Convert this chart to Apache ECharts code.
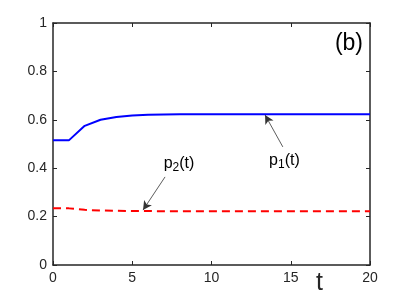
<!DOCTYPE html>
<html><head><meta charset="utf-8">
<script src="https://cdn.jsdelivr.net/npm/echarts@6/dist/echarts.min.js"></script>
<style>html,body{margin:0;padding:0;background:#fff}#c{width:409px;height:298px}</style>
</head><body><div id="c"></div>
<script>
const tValues = [0,1,2,3,4,5,6,7,8,9,10,11,12,13,14,15,16,17,18,19,20];
const p1Values = [0.515,0.515,0.575,0.600,0.612,0.618,0.621,0.622,0.623,0.623,0.623,0.623,0.623,0.623,0.623,0.623,0.623,0.623,0.623,0.623,0.623];
const p2Values = [0.235,0.234,0.228,0.225,0.224,0.223,0.223,0.222,0.222,0.222,0.222,0.222,0.222,0.222,0.222,0.222,0.222,0.222,0.222,0.222,0.222];
const xTicks = [0,5,10,15,20];
const yTicks = [0,0.2,0.4,0.6,0.8,1];
const p1Arrow = [[14.5,0.488],[13.38,0.62]];
const p2Arrow = [[7.07,0.364],[5.68,0.227]];
const p1LabelPos = [14.6,0.433];
const p2LabelPos = [7.95,0.421];
const panelLabel = '(b)';
const xName = 't';

const axisColor = '#262626';
const font = 'Liberation Sans, Arial, sans-serif';
const chart = echarts.init(document.getElementById('c'));
const toPairs = (xs, ys) => xs.map((x,i)=>[x, ys[i]]);
const rich = {
  a:{fontSize:16,color:'#000',fontFamily:font},
  s:{fontSize:12,color:'#000',fontFamily:font,verticalAlign:'bottom',padding:[9,0,0,0]}
};
const axisCommon = () => ({
  min:0, axisLine:{show:true,onZero:false,lineStyle:{color:axisColor,width:1.5}},
  axisTick:{show:true,inside:true,length:4,lineStyle:{color:axisColor,width:1}},
  splitLine:{show:false}
});
chart.setOption({
  animation:false,
  grid:{left:53,right:39,top:23,bottom:33,containLabel:false},
  xAxis:[
    Object.assign(axisCommon(),{type:'value',max:20,interval:5,position:'bottom',
      axisLabel:{color:axisColor,fontSize:14,fontFamily:font,margin:6,
        formatter:v=>xTicks.includes(v)?String(v):''}
    }),
    Object.assign(axisCommon(),{type:'value',max:20,interval:5,position:'top',axisLabel:{show:false}})
  ],
  yAxis:[
    Object.assign(axisCommon(),{type:'value',max:1,interval:0.2,position:'left',
      axisLabel:{color:axisColor,fontSize:14,fontFamily:font,margin:6,
        formatter:v=>{const t=yTicks.find(y=>Math.abs(y-v)<1e-9);return t===undefined?'':String(t);}}
    }),
    Object.assign(axisCommon(),{type:'value',max:1,interval:0.2,position:'right',axisLabel:{show:false}})
  ],
  graphic:[
    {type:'text',right:46,top:32,style:{text:panelLabel,fontSize:23,fontFamily:font,fill:'#000'}},
    {type:'text',left:316,top:271,style:{text:xName,fontSize:25,fontFamily:font,fill:axisColor}}
  ],
  series:[
    {type:'line',data:toPairs(tValues,p1Values),symbol:'none',lineStyle:{color:'#0000ff',width:2},
      markLine:{silent:true,symbol:['none','arrow'],symbolSize:[7,9],
        lineStyle:{color:'#333',width:0.8,type:'solid'},label:{show:false},
        data:[[{coord:p1Arrow[0]},{coord:p1Arrow[1]}]]},
      markPoint:{symbol:'circle',symbolSize:0,data:[{coord:p1LabelPos,
        label:{show:true,position:'inside',formatter:'{a|p}{s|1}{a|(t)}',rich:rich}}]}
    },
    {type:'line',data:toPairs(tValues,p2Values),symbol:'none',lineStyle:{color:'#ff0000',width:2,type:[8,5]},
      markLine:{silent:true,symbol:['none','arrow'],symbolSize:[7,9],
        lineStyle:{color:'#333',width:0.8,type:'solid'},label:{show:false},
        data:[[{coord:p2Arrow[0]},{coord:p2Arrow[1]}]]},
      markPoint:{symbol:'circle',symbolSize:0,data:[{coord:p2LabelPos,
        label:{show:true,position:'inside',formatter:'{a|p}{s|2}{a|(t)}',rich:rich}}]}
    }
  ]
});
</script></body></html>
